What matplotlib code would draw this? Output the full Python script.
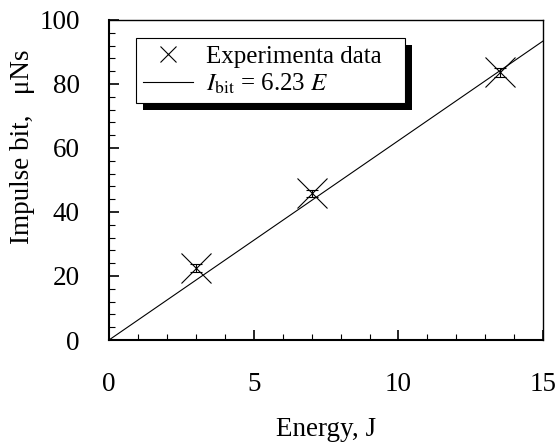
import matplotlib
matplotlib.use('Agg')
import matplotlib.pyplot as plt
from matplotlib.patches import Rectangle
from matplotlib.ticker import MultipleLocator

plt.rcParams['font.family'] = 'Liberation Serif'
plt.rcParams['mathtext.fontset'] = 'stix'

# measured points
energy = [3.0, 7.0, 13.5]
impulse = [22.5, 45.8, 83.6]
impulse_err = [1.2, 1.0, 1.3]

# fit I_bit = 6.23 E
slope = 6.23
fit_x = [0, 15]
fit_y = [slope * x for x in fit_x]

fig = plt.figure(figsize=(5.56, 4.43), dpi=100)
ax = fig.add_axes([0.196, 0.2325, 0.781, 0.7225])

ax.plot(energy, impulse, linestyle='none', marker='x', markersize=21,
        markeredgewidth=0.8, color='black', label='Experimenta data')
ax.errorbar(energy, impulse, yerr=impulse_err, fmt='none', ecolor='black',
            elinewidth=0.8, capsize=4, capthick=0.8)
ax.plot(fit_x, fit_y, color='black', linewidth=0.8,
        label=r'$I_{\rm bit}$ = 6.23 $E$')

ax.set_xlim(0, 15)
ax.set_ylim(0, 100)
ax.xaxis.set_major_locator(MultipleLocator(5))
ax.xaxis.set_minor_locator(MultipleLocator(1))
ax.yaxis.set_major_locator(MultipleLocator(20))
ax.yaxis.set_minor_locator(MultipleLocator(4))
ax.tick_params(which='both', direction='in', labelsize=19.5, top=False, right=False)
ax.tick_params(which='major', length=7, width=1.2)
ax.tick_params(axis='x', which='major', pad=23)
ax.tick_params(axis='y', which='major', pad=21)
ax.tick_params(which='minor', length=4, width=0.8)
for s in ax.spines.values():
    s.set_linewidth(1.0)
ax.spines['bottom'].set_linewidth(1.5)
ax.spines['left'].set_linewidth(1.5)

ax.set_xlabel('Energy, J', fontsize=19.5)
ax.set_ylabel('Impulse bit,   μNs', fontsize=19.5)
ax.xaxis.set_label_coords(0.5, -0.24)
ax.yaxis.set_label_coords(-0.17, 0.605)

leg = ax.legend(loc='upper left', bbox_to_anchor=(0.062, 0.5, 0.62, 0.445),
                mode='expand', fontsize=18,
                fancybox=False, edgecolor='black', framealpha=1,
                handlelength=2.0, handletextpad=0.5, borderpad=0.3,
                labelspacing=0.15, markerscale=0.55, borderaxespad=0)
leg.get_frame().set_linewidth(0.8)
leg.set_zorder(5)

# black drop shadow behind the legend box
fig.canvas.draw()
bb = leg.get_window_extent()
inv = fig.transFigure.inverted()
(x0, y0), (x1, y1) = inv.transform([(bb.x0 + 7, bb.y0 - 7), (bb.x1 + 7, bb.y1 - 7)])
shadow = Rectangle((x0, y0), x1 - x0, y1 - y0, transform=fig.transFigure,
                   facecolor='black', edgecolor='none', zorder=4)
ax.add_artist(shadow)
shadow.set_clip_on(False)

fig.savefig('out.png', dpi=100)
